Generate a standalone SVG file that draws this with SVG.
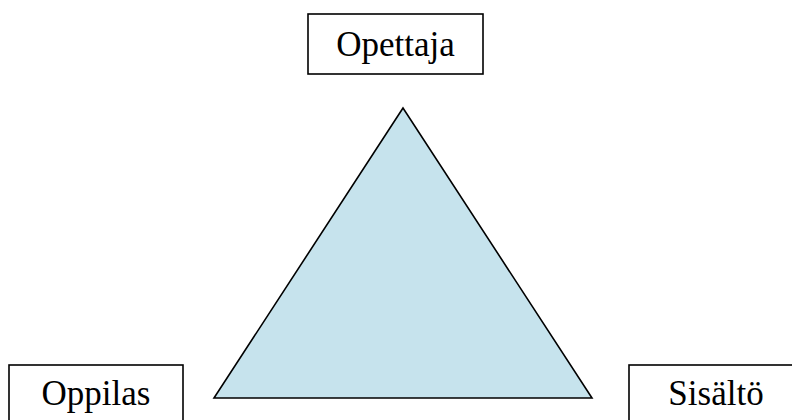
<svg xmlns="http://www.w3.org/2000/svg" width="792" height="420" viewBox="0 0 792 420">
<style>
.box{fill:#ffffff;stroke:#000000;stroke-width:1.6}
.lbl{font-family:"Liberation Serif","DejaVu Serif",serif;font-size:35px;fill:#000000;text-anchor:middle}
.tri{fill:#c6e3ed;stroke:#000000;stroke-width:1.6;stroke-linejoin:miter}
</style>
<rect width="792" height="420" fill="#ffffff"/>
<g id="connectors">
<polygon class="tri" points="403,108 214,398 592,398"/>
</g>
<g id="opettaja">
<rect class="box" x="308" y="14" width="175" height="60"/>
<text class="lbl" x="395.5" y="56">Opettaja</text>
</g>
<g id="oppilas">
<rect class="box" x="9" y="365" width="174" height="60"/>
<text class="lbl" x="96" y="405">Oppilas</text>
</g>
<g id="sisalto">
<rect class="box" x="629" y="365" width="174" height="60"/>
<text class="lbl" x="716" y="405">Sisältö</text>
</g>
</svg>
